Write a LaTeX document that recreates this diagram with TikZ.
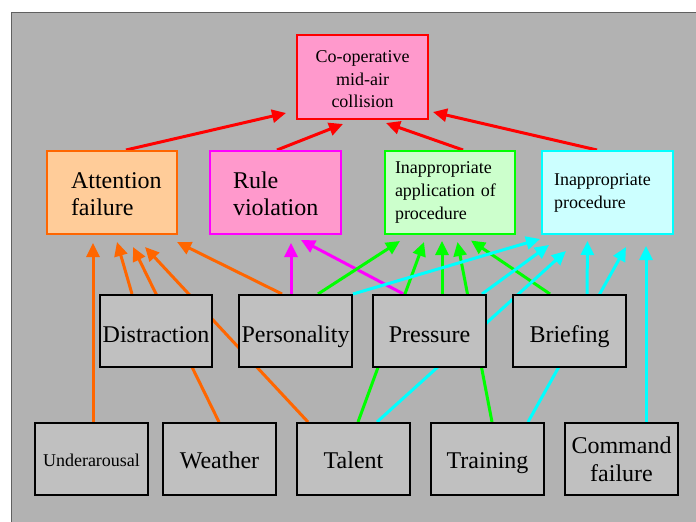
\documentclass[tikz,border=0pt]{standalone}
\usepackage{fontspec}
\setmainfont{Liberation Serif}
\usetikzlibrary{arrows.meta,calc}
\pgfdeclarelayer{back}
\pgfdeclarelayer{edges}
\pgfsetlayers{back,edges,main}

\definecolor{panel}{RGB}{178,178,178}
\definecolor{panelrim}{RGB}{96,96,96}
\definecolor{boxgray}{RGB}{192,192,192}
\definecolor{cRed}{RGB}{255,0,0}
\definecolor{cOrange}{RGB}{255,102,0}
\definecolor{cMagenta}{RGB}{255,0,255}
\definecolor{cGreen}{RGB}{0,255,0}
\definecolor{cCyan}{RGB}{0,255,255}
\definecolor{fOrange}{RGB}{255,204,153}
\definecolor{fPink}{RGB}{255,153,204}
\definecolor{fGreen}{RGB}{204,255,204}
\definecolor{fCyan}{RGB}{204,255,255}

% invisible strut that lowers the first line of a box a little
\newcommand{\topstrut}[1]{\rule{0pt}{#1}}

\begin{document}
\begin{tikzpicture}[x=1pt,y=-1pt,
  goal/.style={draw=cRed, fill=fPink, line width=2pt, minimum width=131pt,
    minimum height=84pt, inner sep=0pt, align=center,
    font=\fontsize{18}{22.5}\selectfont},
  cause/.style={line width=2pt, minimum height=83pt, inner ysep=0pt, align=left},
  bigtext/.style={font=\fontsize{24}{27}\selectfont},
  smalltext/.style={font=\fontsize{18}{23}\selectfont},
  factor/.style={draw=black, fill=boxgray, line width=2pt, minimum width=113pt,
    minimum height=72pt, inner sep=0pt, font=\fontsize{24}{28}\selectfont},
  link/.style={line width=3pt, -{Triangle[length=14pt,width=13pt]}}
]
\useasboundingbox (0,0) rectangle (696,522);

% grey panel behind the whole chart
\begin{pgfonlayer}{back}
  \fill[panel] (11,12) rectangle (696,522);
  \draw[panelrim, line width=1.5pt] (11.5,522) -- (11.5,12.5) -- (696,12.5);
\end{pgfonlayer}

% top event
\node[goal] (coll) at (362.5,77) {\topstrut{17pt}Co-operative\\mid-air\\collision};

% failure modes
\node[cause, bigtext, draw=cOrange, fill=fOrange, text width=82pt, inner xsep=24pt]
  (att) at (112,192.5) {\topstrut{20pt}Attention\\failure};
\node[cause, bigtext, draw=cMagenta, fill=fPink, text width=85pt, inner xsep=23pt]
  (rule) at (275.5,192.5) {\topstrut{20pt}Rule\\violation};
\node[cause, smalltext, draw=cGreen, fill=fGreen, text width=110pt, inner xsep=10pt]
  (iapp) at (450,192.5) {Inappropriate\\application of\\procedure};
\node[cause, smalltext, draw=cCyan, fill=fCyan, text width=107pt, inner xsep=12pt]
  (iproc) at (607.5,192.5) {Inappropriate\\procedure};

% contributing factors, middle row
\node[factor, minimum width=112pt, text height=22pt, text depth=0pt] (dist) at (156,331) {Distraction};
\node[factor, text height=22pt, text depth=0pt] (pers) at (295.5,331) {Personality};
\node[factor, text height=22pt, text depth=0pt] (pres) at (429.5,331) {Pressure};
\node[factor, text height=22pt, text depth=0pt] (brief) at (569.5,331) {Briefing};

% contributing factors, bottom row
\node[factor, font=\fontsize{18}{22}\selectfont, text height=15.5pt, text depth=0pt]
  (under) at (91.5,459) {Underarousal};
\node[factor, text height=18.6pt, text depth=0pt] (weather) at (219.5,459) {Weather};
\node[factor, text height=18.6pt, text depth=0pt] (talent) at (353.5,459) {Talent};
\node[factor, text height=18.6pt, text depth=0pt] (training) at (487.5,459) {Training};
\node[factor, align=center] (command) at (621.5,459) {Command\\failure};

\begin{pgfonlayer}{edges}
  % into the collision
  \draw[link, cRed] ($(att.north)+(14,0)$)     -- ($(coll.south west)+(-10,-7)$);
  \draw[link, cRed] ($(rule.north)+(1.5,0)$)   -- ($(coll.south west)+(47,4)$);
  \draw[link, cRed] ($(iapp.north)+(13,0)$)    -- ($(coll.south west)+(90,3)$);
  \draw[link, cRed] ($(iproc.north)+(-10.5,0)$) -- ($(coll.south east)+(4,-8)$);

  % into attention failure
  \draw[link, cOrange] ($(under.north)+(1.5,0)$)    -- ($(att.south)+(-19,8)$);
  \draw[link, cOrange] ($(dist.north)+(-24,0)$)     -- ($(att.south)+(5,7)$);
  \draw[link, cOrange] ($(weather.north)+(-0.5,0)$) -- ($(att.south)+(21,12)$);
  \draw[link, cOrange] ($(talent.north)+(-45.5,0)$) -- ($(att.south)+(33,12)$);
  \draw[link, cOrange] ($(pers.north)+(-13.5,0)$)   -- ($(att.south east)+(-1,7)$);

  % into rule violation
  \draw[link, cMagenta] ($(pers.north)+(-4.5,0)$) -- ($(rule.south)+(15.5,8)$);
  \draw[link, cMagenta] ($(pres.north)+(-26,0)$)  -- ($(rule.south)+(25.5,5)$);

  % into inappropriate application of procedure
  \draw[link, cGreen] ($(pers.north)+(22.5,0)$)    -- ($(iapp.south)+(-50,6)$);
  \draw[link, cGreen] ($(talent.north)+(4.5,0)$)   -- ($(iapp.south)+(-26,7)$);
  \draw[link, cGreen] ($(pres.north)+(12.5,0)$)    -- ($(iapp.south)+(-8,6)$);
  \draw[link, cGreen] ($(training.north)+(4.5,0)$) -- ($(iapp.south)+(7.5,7)$);
  \draw[link, cGreen] ($(brief.north)+(-19.5,0)$)  -- ($(iapp.south)+(21,5.5)$);

  % into inappropriate procedure
  \draw[link, cCyan] ($(pers.north)+(57.5,0)$)     -- ($(iproc.south west)+(-1,4)$);
  \draw[link, cCyan] ($(pres.north)+(52.5,0)$)     -- ($(iproc.south west)+(8,10)$);
  \draw[link, cCyan] ($(talent.north)+(23.5,0)$)   -- ($(iproc.south west)+(25,16)$);
  \draw[link, cCyan] ($(brief.north)+(17.5,0)$)    -- ($(iproc.south)+(-20,6)$);
  \draw[link, cCyan] ($(training.north)+(40.5,0)$) -- ($(iproc.south)+(18.5,12)$);
  \draw[link, cCyan] ($(command.north)+(24.5,0)$)  -- ($(iproc.south)+(38.5,11)$);
\end{pgfonlayer}
\end{tikzpicture}
\end{document}
